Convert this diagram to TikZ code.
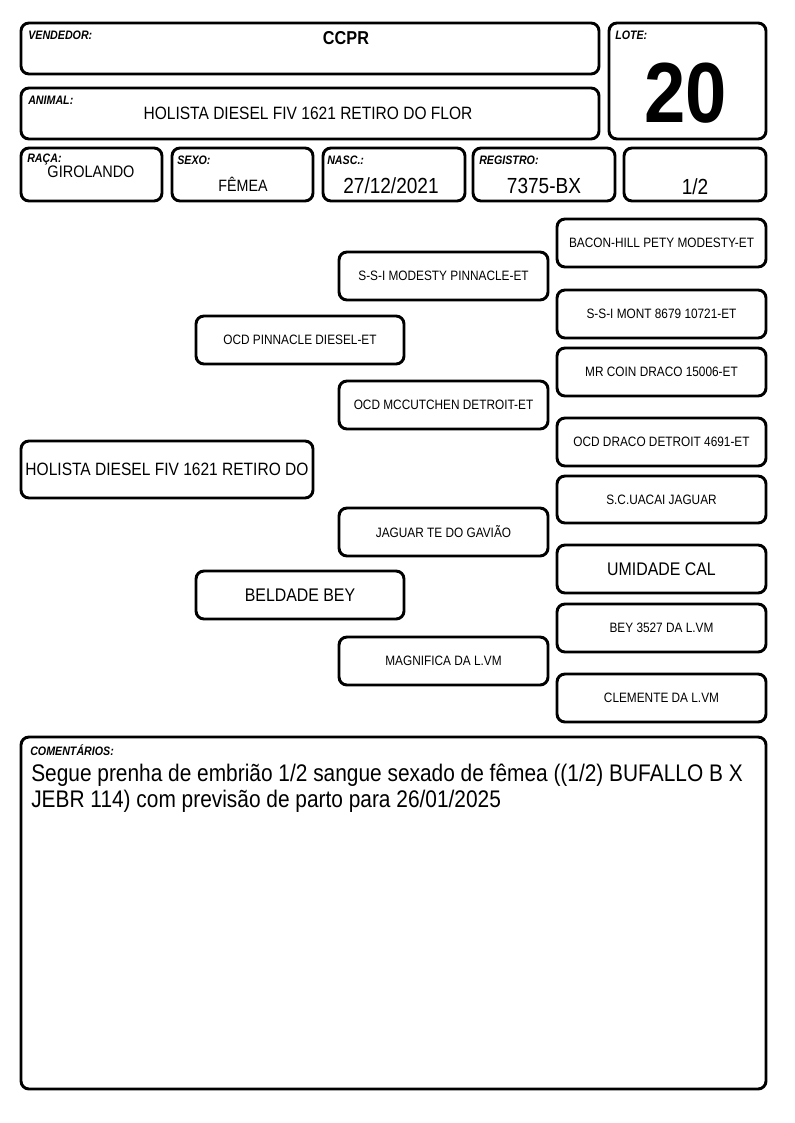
\documentclass[tikz,border=0pt]{standalone}
\usepackage{fontspec}
\setmainfont{Liberation Sans}[FakeStretch=0.87]
\begin{document}
\begin{tikzpicture}[x=0.75pt,y=-0.75pt,
  box/.style 2 args={draw=black, line width=2.2pt, rounded corners=6pt, minimum width=#1*0.75pt, minimum height=#2*0.75pt, inner sep=0pt, fill=white},
  lbl/.style={anchor=north west, inner sep=0pt, font=\fontsize{9.2}{10}\selectfont\bfseries\itshape},
  val/.style={inner sep=0pt, font=\fontsize{13.4}{15}\selectfont},
  ped/.style={font=\fontsize{10.2}{12}\selectfont, align=center},
  pedbig/.style={font=\fontsize{13.7}{15}\selectfont, align=center}]
\useasboundingbox (0,0) rectangle (794,1123);
% header
\node[box={578}{51}] (vend) at (310,48.5) {};
\node[lbl] (vendl) at (28,31) {VENDEDOR:};
\node[val, font=\fontsize{14}{15}\selectfont\bfseries] (vendv) at (346,38) {CCPR};
\node[box={578}{51}] (anim) at (310,113.5) {};
\node[lbl] (animl) at (28,96) {ANIMAL:};
\node[val] (animv) at (308,113) {HOLISTA DIESEL FIV 1621 RETIRO DO FLOR};
\node[box={157}{116}] (lote) at (687.5,81) {};
\node[lbl] (lotel) at (615,31) {LOTE:};
\node[inner sep=0pt, font=\fontsize{64}{66}\selectfont\bfseries] (lotev) at (686,93) {20};
\node[box={141}{53}] (raca) at (91.5,174.5) {};
\node[lbl] (racal) at (27,154) {RAÇA:};
\node[val, font=\fontsize{12.5}{14}\selectfont] (racav) at (91,172) {GIROLANDO};
\node[box={141}{53}] (sexo) at (242.5,174.5) {};
\node[lbl] (sexol) at (177,156) {SEXO:};
\node[val, font=\fontsize{12.3}{14}\selectfont] (sexov) at (243,184) {FÊMEA};
\node[box={142}{53}] (nasc) at (394,174.5) {};
\node[lbl] (nascl) at (327,156) {NASC.:};
\node[val, font=\fontsize{16.4}{18}\selectfont] (nascv) at (391,186) {27/12/2021};
\node[box={142}{53}] (reg) at (544,174.5) {};
\node[lbl] (regl) at (479,156) {REGISTRO:};
\node[val, font=\fontsize{16.4}{18}\selectfont] (regv) at (544,186) {7375-BX};
\node[box={142}{53}] (frac) at (695,174.5) {};
\node[val, font=\fontsize{16.4}{18}\selectfont] (fracv) at (695,187) {1/2};
% pedigree
\node[box={292}{57}, pedbig, font=\fontsize{13.4}{15}\selectfont] (a0) at (167,469.5) {HOLISTA DIESEL FIV 1621 RETIRO DO};
\node[box={208}{48}, ped] (p1) at (300,340) {OCD PINNACLE DIESEL-ET};
\node[box={208}{48}, pedbig] (p2) at (300,595) {BELDADE BEY};
\node[box={209}{48}, ped] (g1) at (443.5,276) {S-S-I MODESTY PINNACLE-ET};
\node[box={209}{48}, ped] (g2) at (443.5,405) {OCD MCCUTCHEN DETROIT-ET};
\node[box={209}{48}, ped] (g3) at (443.5,532) {JAGUAR TE DO GAVIÃO};
\node[box={209}{48}, ped] (g4) at (443.5,661) {MAGNIFICA DA L.VM};
\node[box={209}{48}, ped] (h1) at (661.5,243) {BACON-HILL PETY MODESTY-ET};
\node[box={209}{48}, ped] (h2) at (661.5,314) {S-S-I MONT 8679 10721-ET};
\node[box={209}{48}, ped] (h3) at (661.5,372) {MR COIN DRACO 15006-ET};
\node[box={209}{48}, ped] (h4) at (661.5,442) {OCD DRACO DETROIT 4691-ET};
\node[box={209}{47}, ped] (h5) at (661.5,499.5) {S.C.UACAI JAGUAR};
\node[box={209}{48}, pedbig] (h6) at (661.5,569) {UMIDADE CAL};
\node[box={209}{48}, ped] (h7) at (661.5,628) {BEY 3527 DA L.VM};
\node[box={209}{48}, ped] (h8) at (661.5,698) {CLEMENTE DA L.VM};
% comments
\node[box={745}{352}] (com) at (393.5,913) {};
\node[lbl] (coml) at (30,744) {COMENTÁRIOS:};
\node[anchor=north west, inner sep=0pt, align=left, font=\fontsize{18}{19.6}\selectfont] (comv) at (31,764) {Segue prenha de embrião 1/2 sangue sexado de fêmea ((1/2) BUFALLO B X\\JEBR 114) com previsão de parto para 26/01/2025};
\end{tikzpicture}
\end{document}
